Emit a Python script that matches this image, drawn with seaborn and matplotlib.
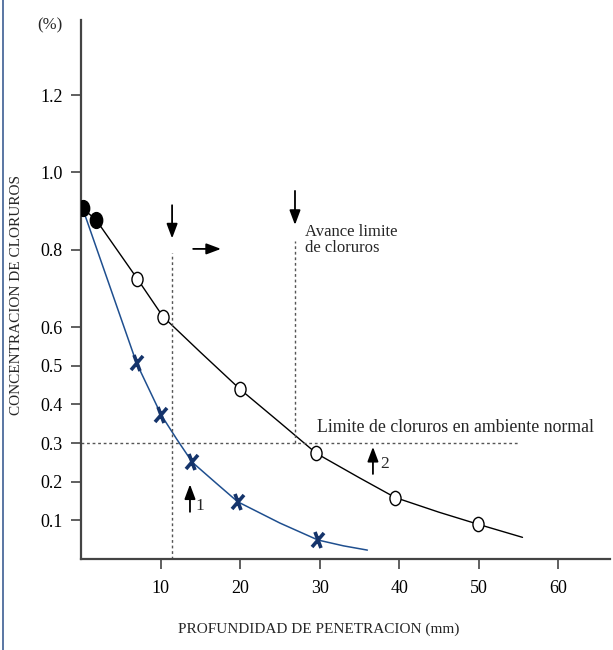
import numpy as np
import pandas as pd
import matplotlib
matplotlib.use("Agg")
import matplotlib.pyplot as plt
from matplotlib.markers import MarkerStyle
from matplotlib.transforms import Affine2D
from matplotlib.path import Path
from matplotlib.lines import Line2D
import seaborn as sns

sns.set_theme(style="white")
plt.rcParams['font.family'] = ['Liberation Serif', 'DejaVu Serif']

# Data
filled_x = [0.2, 1.9]
filled_y = [0.907, 0.877]
open_x = [7.1, 10.3, 20.0, 29.6, 39.5, 49.9]
open_y = [0.724, 0.627, 0.439, 0.273, 0.159, 0.090]
black_curve_x = [0.2, 1.9, 7.1, 10.3, 15, 20, 25, 29.6, 35, 39.5, 45, 49.9, 55.5]
black_curve_y = [0.907, 0.877, 0.724, 0.627, 0.535, 0.439, 0.353, 0.273, 0.210, 0.159, 0.121, 0.090, 0.056]

cross_x = [7.0, 10.1, 14.0, 19.7, 29.8]
cross_y = [0.506, 0.372, 0.250, 0.148, 0.049]
blue_curve_x = [0.2, 7.0, 10.1, 12, 14.0, 17, 19.7, 25, 29.8, 33, 36]
blue_curve_y = [0.907, 0.506, 0.372, 0.311, 0.250, 0.196, 0.148, 0.093, 0.049, 0.034, 0.023]

x_ticks = [10, 20, 30, 40, 50, 60]
y_ticks = [0.1, 0.2, 0.3, 0.4, 0.5, 0.6, 0.8, 1.0, 1.2]

limit_level = 0.3
front_1 = 11.45
front_2 = 26.9

fig = plt.figure(figsize=(6.13, 6.5), dpi=100)
ax = fig.add_axes([81 / 613, 91 / 650, 529 / 613, 539 / 650])

# curves
sns.lineplot(x=black_curve_x, y=black_curve_y, sort=False, color='black', lw=1.0, ax=ax)
sns.lineplot(x=blue_curve_x, y=blue_curve_y, sort=False, color='#1f4f8f', lw=1.1, ax=ax)

# markers
ellipse = Path.unit_circle().transformed(Affine2D().scale(0.78, 1.0))
sns.scatterplot(x=open_x, y=open_y, marker=ellipse, s=105, facecolor='white',
                edgecolor='black', linewidth=1.0, ax=ax, zorder=5)
sns.scatterplot(x=filled_x, y=filled_y, marker=ellipse, s=130, color='black',
                edgecolor='black', linewidth=1.0, ax=ax, zorder=5)
xmark = MarkerStyle('x', transform=Affine2D().scale(0.6, 1.0).rotate_deg(-8))
ax.plot(cross_x, cross_y, linestyle='none', marker=xmark, markersize=11,
        markeredgewidth=2.6, color='#15346b', zorder=6)

# reference lines
dot = dict(color='#555555', lw=1.0, linestyle=(0, (2, 2)))
ax.plot([0, 55.0], [limit_level, limit_level], **dot)
ax.plot([front_1, front_1], [0, 0.791], **dot)
ax.plot([front_2, front_2], [limit_level, 0.823], **dot)

# arrows
arrow = dict(arrowstyle='-|>,head_width=0.3,head_length=0.8', color='black', lw=1.3,
             shrinkA=0, shrinkB=0, mutation_scale=11)
ax.annotate('', xy=(front_1, 0.829), xytext=(front_1, 0.915), arrowprops=arrow)
ax.annotate('', xy=(front_2, 0.864), xytext=(front_2, 0.952), arrowprops=arrow)
ax.annotate('', xy=(17.6, 0.802), xytext=(14.1, 0.802), arrowprops=arrow)
ax.annotate('', xy=(13.7, 0.193), xytext=(13.7, 0.122), arrowprops=arrow)
ax.annotate('', xy=(36.7, 0.290), xytext=(36.7, 0.220), arrowprops=arrow)

ax.text(14.4, 0.137, '1', fontsize=12.5, va='center', ha='left')
ax.text(37.6, 0.245, '2', fontsize=12.5, va='center', ha='left')
ax.text(28.2, 0.826, 'Avance limite\nde cloruros', fontsize=12, va='center', ha='left',
        linespacing=1.0)
ax.text(29.7, 0.339, 'Limite de cloruros en ambiente normal', fontsize=12.8,
        va='center', ha='left')

# axes
ax.set_xlim(0, 66.5)
ax.set_ylim(0, 1.394)
ax.set_xticks(x_ticks)
ax.set_xticklabels([str(t) for t in x_ticks])
ax.set_yticks(y_ticks)
ax.set_yticklabels([f'{t:.1f}' for t in y_ticks])
ax.tick_params(axis='both', direction='out', length=7, width=1.2, color='#444444',
               labelsize=13, labelcolor='black', left=True, bottom=True)
ax.tick_params(axis='y', pad=6)
ax.tick_params(axis='x', pad=8)
for side in ['top', 'right']:
    ax.spines[side].set_visible(False)
for side in ['left', 'bottom']:
    ax.spines[side].set_color('#444444')
    ax.spines[side].set_linewidth(1.6)
ax.grid(False)

ax.set_xlabel('PROFUNDIDAD DE PENETRACION (mm)', fontsize=11)
ax.xaxis.set_label_coords(0.45, -0.117)
ax.set_ylabel('CONCENTRACION DE CLORUROS', fontsize=11)
ax.yaxis.set_label_coords(-0.11, 0.49)
ax.text(-0.035, 0.99, '(%)', transform=ax.transAxes, fontsize=12, ha='right', va='center')

# frame line on the left edge
fig.add_artist(Line2D([3 / 613, 3 / 613], [0, 1], transform=fig.transFigure,
                      color='#3d5f94', lw=1.2))

fig.savefig('out.png', dpi=100)
